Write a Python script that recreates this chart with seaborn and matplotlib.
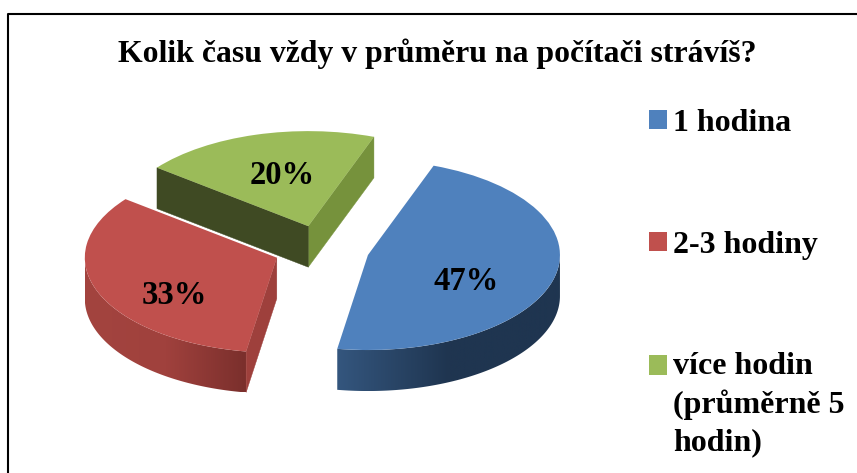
import matplotlib
matplotlib.use('Agg')
import matplotlib.pyplot as plt
import numpy as np
import seaborn as sns
from matplotlib.patches import Polygon
from matplotlib.colors import LinearSegmentedColormap

sns.set_theme(style='white')
plt.rcParams['font.family'] = ['Liberation Serif', 'DejaVu Serif']

title = 'Kolik času vždy v průměru na počítači strávíš?'
categories = ['1 hodina', '2-3 hodiny', 'více hodin\n(průměrně 5\nhodin)']
values = [47, 33, 20]
colors = ['#4f81bd', '#c0504d', '#9bbb59']

W, H = 857, 473
SQ = 0.495
DEPTH = 41 / SQ


def py(p):
    # pixel row -> data y (the pie is squashed only through the y limits)
    return (H - p) / SQ


fig = plt.figure(figsize=(W / 100, H / 100), dpi=100)
ax = fig.add_axes([0, 0, 1, 1])

# explode is in data units here because radius is in pixels
wedges, _, pcts = ax.pie(values, colors=colors, startangle=70, counterclock=False,
                         explode=[48, 48, 48], radius=192, center=(321.5, py(249)),
                         autopct='%d%%', wedgeprops={'linewidth': 0},
                         textprops={'fontsize': 23.5, 'fontweight': 'bold', 'color': 'black'})


def tip(w, ang):
    a = np.radians(ang)
    return (w.center[0] + w.r * np.cos(a), w.center[1] + w.r * np.sin(a))


def cut_face(w, ang, color, z):
    cx, cy = w.center
    tx, ty = tip(w, ang)
    ax.add_patch(Polygon([(cx, cy), (tx, ty), (tx, ty - DEPTH), (cx, cy - DEPTH)],
                         fc=color, ec=color, lw=0.3, zorder=z))


def rim(w, stops, z):
    ang = np.linspace(w.theta1, w.theta2, 300)
    ang = ang[np.sin(np.radians(ang)) <= 0]
    xs = w.center[0] + w.r * np.cos(np.radians(ang))
    ys = w.center[1] + w.r * np.sin(np.radians(ang))
    pts = list(zip(xs, ys)) + list(zip(xs[::-1], ys[::-1] - DEPTH))
    poly = Polygon(pts, fc='none', ec='none', transform=ax.transData)
    ax.add_patch(poly)
    cmap = LinearSegmentedColormap.from_list('rim', stops)
    grad = np.linspace(0, 1, 256).reshape(1, -1)
    im = ax.imshow(grad, cmap=cmap, aspect='auto', zorder=z,
                   extent=(xs.min(), xs.max(), ys.min() - DEPTH, ys.max()))
    im.set_clip_path(poly)


blue, red, green = wedges

# back to front: green, red, blue
cut_face(green, green.theta1, '#76923c', 1)
cut_face(green, green.theta2, '#3f4a23', 1.5)
green.set_zorder(2)

rim(red, ['#a3443f', '#a0413d', '#7a2f2c'], 3)
cut_face(red, red.theta2, '#9e403c', 3)
red.set_zorder(4)

rim(blue, ['#34567e', '#1f3550', '#1f3550'], 5)
blue.set_zorder(6)

pct_pos = [(466, 282), (174, 296), (282, 176)]
for t, (px, pp) in zip(pcts, pct_pos):
    t.set_position((px, py(pp)))
    t.set_ha('center')
    t.set_va('center')
    t.set_zorder(10)

ax.set_aspect('auto')
ax.set_xlim(0, W)
ax.set_ylim(0, H / SQ)

# only the top and left chart border are inside the crop
ax.plot([8, 8, W], [0, py(14), py(14)], color='black', lw=1.5, zorder=11, clip_on=False)

ax.text(437, py(54), title, ha='center', va='center', fontsize=22.9, fontweight='bold',
        color='black', zorder=12)

leg = ax.legend(wedges, categories, loc='upper left', bbox_to_anchor=(649 / W, 1 - 109 / H),
                frameon=False, handlelength=0.55, handleheight=0.55, handletextpad=0.2,
                labelspacing=2.9, borderpad=0, borderaxespad=0,
                prop={'family': 'Liberation Serif', 'weight': 'bold', 'size': 23})
leg.set_zorder(12)
for t in leg.get_texts():
    t.set_color('black')
    t.set_linespacing(1.36)
h = leg.get_patches()[2]
h.set_y(h.get_y() + 28.4)

fig.savefig('out.png', dpi=100)
